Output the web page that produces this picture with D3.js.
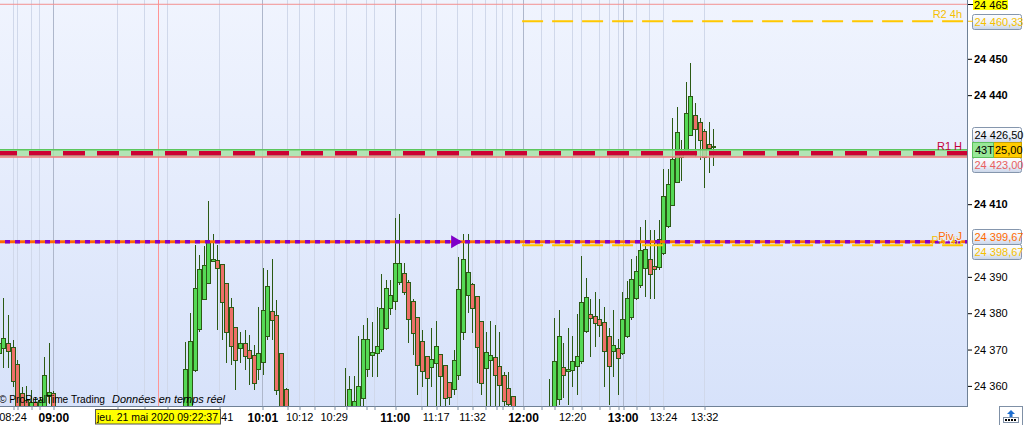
<!DOCTYPE html>
<html><head><meta charset="utf-8"><title>chart</title>
<script src="https://cdn.jsdelivr.net/npm/d3@7/dist/d3.min.js"></script>
<style>
html,body{margin:0;padding:0;background:#fff;overflow:hidden;}
svg{display:block;font-family:"Liberation Sans",Arial,sans-serif;}
</style></head><body>
<svg id="chart" width="1025" height="425"></svg>
<script>
// ---------- DATA ----------
const opens = [24369.1,24370.3,24371.7,24370.6,24365.9,24358.0,24356.1,24349.0,24355.5,24350.0,24349.0,24357.0,24358.1,
24351.0,24347.5,24345.0,24346.5,24342.0,24340.5,24341.5,24337.0,24339.0,24336.5,24334.0,24337.5,24336.0,24333.0,24335.5,24338.5,24336.5,24339.0,24342.0,24340.0,24343.5,24342.0,24345.0,24348.0,24345.5,24347.5,24350.5,24348.0,
24349.0,24353.0,24364.3,24375.6,24383.8,24388.5,24394.3,24394.6,24393.5,24388.2,24381.6,24376.2,24370.3,24371.7,24369.9,24368.5,24364.6,24366.7,24373.6,24380.6,24379.4,24369.0,24359.1,
24350.0,24347.0,24344.5,24346.5,24343.0,24341.0,24344.0,24343.0,24346.5,24345.0,24348.5,24347.0,
24350.0,24352.0,24353.0,24353.0,24356.6,24364.6,24368.7,24369.0,24370.1,24375.9,24381.4,24383.2,24388.5,24391.0,24388.5,24383.4,24378.9,24372.3,24368.1,24365.1,24366.2,24368.7,24365.7,24361.0,24359.1,24362.9,24374.7,24384.9,24388.0,24384.7,24377.8,24364.8,24367.0,24367.9,24365.4,24362.9,24359.3,24357.1,
24351.0,24348.5,24346.0,24347.5,24345.5,24348.0,24346.5,
24349.0,24353.5,24356.3,24365.1,24364.0,24364.4,24365.4,24366.9,24375.0,24379.7,24379.2,24378.4,24377.5,24373.6,24369.5,24370.3,24369.0,24373.6,24378.8,24384.1,24387.6,24392.4,24394.8,24392.9,24392.5,24396.5,24404.1,24409.8,24416.2,24422.9,24424.0,24429.2,24434.5,24432.5,24430.1,24426.5,24426.0];
const highs = [24374.0,24384.1,24379.5,24372.6,24367.1,24359.8,24360.0,24358.9,24357.0,24357.0,24368.0,24371.7,24358.5,
24352.5,24350.0,24348.0,24349.0,24345.5,24343.0,24344.0,24340.5,24342.0,24339.0,24338.5,24341.0,24338.0,24337.0,24340.0,24341.5,24340.0,24343.5,24344.5,24345.0,24347.0,24346.0,24349.5,24350.5,24349.0,24352.0,24352.5,24351.5,
24372.2,24380.0,24398.8,24396.0,24398.5,24410.9,24401.8,24398.8,24393.6,24388.3,24384.1,24376.3,24374.8,24375.4,24374.0,24371.3,24381.8,24392.4,24391.9,24394.8,24383.6,24369.1,24359.5,
24352.0,24350.5,24348.0,24349.5,24346.0,24345.5,24347.5,24348.0,24350.0,24349.5,24351.5,24352.0,
24364.8,24362.7,24362.7,24373.7,24376.8,24378.6,24377.7,24381.6,24390.8,24389.1,24389.1,24406.2,24407.3,24393.7,24389.1,24383.9,24379.0,24375.4,24368.2,24375.9,24377.9,24368.8,24365.8,24361.1,24369.9,24395.6,24401.8,24401.8,24388.2,24384.8,24377.9,24374.9,24377.8,24376.8,24374.9,24363.9,24363.9,24357.2,
24353.0,24351.5,24349.0,24350.0,24349.5,24351.0,24350.5,
24361.9,24378.8,24380.9,24371.9,24376.0,24373.7,24379.8,24395.7,24389.7,24383.8,24385.8,24383.8,24381.6,24376.0,24380.9,24372.9,24385.8,24388.9,24394.9,24395.7,24403.8,24405.7,24402.9,24402.9,24405.7,24419.7,24419.7,24433.6,24436.7,24427.7,24443.6,24448.9,24437.8,24433.6,24430.7,24432.6,24430.7];
const lows = [24367.1,24364.8,24364.8,24359.8,24350.0,24349.0,24347.0,24347.0,24348.0,24348.0,24348.0,24355.0,24349.0,
24346.0,24344.0,24342.5,24341.0,24339.0,24337.5,24336.0,24334.5,24335.0,24333.0,24332.0,24335.5,24331.5,24330.5,24334.0,24335.0,24333.5,24337.0,24338.5,24339.0,24341.0,24340.0,24343.5,24344.0,24343.0,24346.0,24346.5,24345.0,
24346.0,24351.0,24363.8,24374.8,24383.6,24388.3,24394.1,24375.4,24372.6,24366.2,24365.7,24358.9,24366.3,24364.4,24360.2,24358.9,24361.6,24363.0,24372.6,24372.6,24357.5,24350.0,24348.0,
24345.5,24343.0,24342.0,24341.5,24339.5,24339.0,24342.0,24341.5,24344.0,24343.5,24345.5,24345.0,
24347.0,24350.0,24351.0,24351.0,24353.0,24362.5,24362.5,24362.5,24369.3,24375.4,24379.5,24380.9,24387.8,24385.0,24371.7,24368.5,24357.5,24359.8,24352.0,24359.8,24353.0,24353.0,24352.0,24354.7,24357.5,24361.6,24372.6,24380.0,24374.5,24360.7,24357.5,24353.0,24353.0,24353.0,24353.0,24352.0,24352.0,24349.0,
24347.0,24345.0,24343.5,24344.5,24343.0,24345.5,24344.5,
24346.0,24352.0,24354.7,24356.8,24354.7,24359.8,24357.6,24366.0,24374.6,24367.9,24370.6,24373.5,24359.8,24354.7,24362.5,24357.6,24368.5,24373.2,24378.1,24383.6,24386.9,24384.5,24383.8,24383.8,24391.9,24396.0,24403.5,24409.6,24415.8,24416.5,24423.5,24428.8,24422.9,24422.2,24414.5,24418.7,24420.6];
const closes = [24371.8,24373.1,24369.4,24361.2,24352.0,24351.0,24350.0,24355.7,24351.0,24356.1,24362.9,24358.2,24351.0,
24347.5,24345.0,24346.5,24342.0,24340.5,24341.5,24337.0,24339.0,24336.5,24334.0,24337.5,24336.0,24333.0,24335.5,24338.5,24336.5,24339.0,24342.0,24340.0,24343.5,24342.0,24345.0,24348.0,24345.5,24347.5,24350.5,24348.0,24349.0,
24364.6,24372.4,24386.9,24392.1,24393.2,24399.7,24394.8,24392.4,24383.0,24374.7,24370.8,24367.0,24371.7,24368.0,24367.6,24360.7,24369.0,24380.9,24387.4,24378.1,24358.8,24353.0,24350.0,
24347.0,24344.5,24346.5,24343.0,24341.0,24344.0,24343.0,24346.5,24345.0,24348.5,24347.0,24350.0,
24353.0,24359.1,24355.8,24360.0,24372.9,24372.9,24369.4,24370.9,24381.4,24386.9,24385.0,24393.7,24393.7,24385.8,24378.3,24374.5,24365.7,24364.0,24362.1,24367.3,24370.9,24362.6,24356.6,24356.9,24367.0,24386.6,24394.8,24391.3,24381.4,24370.6,24360.7,24369.2,24368.4,24362.9,24360.2,24355.8,24354.9,24351.0,
24348.5,24346.0,24347.5,24345.5,24348.0,24346.5,24349.0,
24353.0,24366.9,24373.6,24362.8,24364.6,24366.8,24368.1,24383.1,24384.4,24378.7,24377.2,24376.8,24369.5,24365.4,24371.2,24367.6,24378.3,24384.1,24389.3,24391.5,24397.3,24397.6,24390.8,24392.1,24400.3,24412.3,24415.6,24422.4,24429.9,24424.4,24435.1,24439.8,24430.6,24427.6,24422.9,24425.4,24426.0];

const yTicks = [24360, 24370, 24380, 24390, 24410, 24440, 24450];
const yTicksBold = [24410, 24440, 24450];
const timeLabels = ["08:24","09:00","09:41","10:01","10:12","10:29","11:00","11:17","11:32","12:00","12:20","13:00","13:24","13:32"];
const timePos    = [3.0, 11.97, 48.4, 57.9, 66.0, 73.6, 87.0, 96.0, 104.0, 115.2, 126.0, 137.1, 146.0, 155.0];
const timeMajor  = ["09:00","10:01","11:00","12:00","13:00"];
const minorGrid  = [4.0, 7.0, 8.9, 26.0, 31.9, 37.0, 63.4, 69.3, 76.3, 80.8, 82.4, 92.7, 100.6, 106.8, 109.2, 110.6, 112.7, 119.1, 122.0, 128.0, 132.0, 134.2, 136.1, 140.0, 142.9];
const cursorPos = 35.05;
const cursorLabel = "jeu. 21 mai 2020 09:22:37";
const watermark1 = "© ProRealTime Trading", watermark2 = "Données en temps réel";

const topLevel = 24465;
const r2Level = 24460.33, r2Name = "R2 4h";
const lastHigh = 24426.50;
const priceLevel = 24425.00, tickCount = "43T";
const r1Level = 24424.0, r1Name = "R1 H";
const r1Box = 24423.00;
const pivJLevel = 24399.67, pivJName = "Piv J";
const piv4hLevel = 24398.67, piv4hName = "Piv 4h";
const levelStartPos = 115.0;   // 4h levels start at 12:00
const markerPos = 99.4;

// ---------- SETUP ----------
const svg = d3.select("#chart");
const PW = 968, PH = 406;
const x = d3.scaleLinear().domain([0, 157]).range([-1.15, 713.2]);
const y = d3.scaleLinear().domain([24354.47, 24466.18]).range([PH, 0]);
const loc = d3.formatLocale({decimal: ",", thousands: " ", grouping: [3], currency: ["", ""]});
const fmtPrice = loc.format(",.2f");
const fmtInt = loc.format(",d");

const defs = svg.append("defs");
const bg = defs.append("linearGradient").attr("id","bg").attr("x1",0).attr("y1",0).attr("x2",0).attr("y2",1);
bg.append("stop").attr("offset","0%").attr("stop-color","#f0f4fe");
bg.append("stop").attr("offset","100%").attr("stop-color","#d7e2fa");
const bx = defs.append("linearGradient").attr("id","boxg").attr("x1",0).attr("y1",0).attr("x2",0).attr("y2",1);
bx.append("stop").attr("offset","0%").attr("stop-color","#fdfeff");
bx.append("stop").attr("offset","55%").attr("stop-color","#eef2fa");
bx.append("stop").attr("offset","100%").attr("stop-color","#c8d4e8");
defs.append("clipPath").attr("id","clip").append("rect").attr("x",0).attr("y",0).attr("width",PW).attr("height",PH);

svg.append("rect").attr("x",0).attr("y",0).attr("width",1025).attr("height",425).attr("fill","#fff");
svg.append("rect").attr("x",0).attr("y",0).attr("width",PW).attr("height",PH).attr("fill","url(#bg)");

const plot = svg.append("g").attr("clip-path","url(#clip)");

// grid
const px = v => Math.round(x(v)) + 0.5;
plot.selectAll("line.minor").data(minorGrid.concat(timePos.filter((p,i)=>!timeMajor.includes(timeLabels[i]))))
  .join("line").attr("x1",px).attr("x2",px).attr("y1",0).attr("y2",PH)
  .attr("stroke","#d0d8ea").attr("stroke-width",1);
plot.selectAll("line.major").data(timePos.filter((p,i)=>timeMajor.includes(timeLabels[i])))
  .join("line").attr("x1",px).attr("x2",px).attr("y1",0).attr("y2",PH)
  .attr("stroke","#aeb7cb").attr("stroke-width",1);
plot.append("line").attr("x1",px(cursorPos)).attr("x2",px(cursorPos)).attr("y1",0).attr("y2",PH)
  .attr("stroke","#ff9595").attr("stroke-width",1);

// candles
const candles = opens.map((o,i)=>({i, o, h: highs[i], l: lows[i], c: closes[i]}));
const cg = plot.append("g").attr("shape-rendering","crispEdges");
cg.selectAll("line.wick").data(candles).join("line")
  .attr("x1",d=>px(d.i)).attr("x2",d=>px(d.i))
  .attr("y1",d=>y(d.h)).attr("y2",d=>y(d.l))
  .attr("stroke","#2b5a14").attr("stroke-width",1);
cg.selectAll("rect.body").data(candles).join("rect")
  .attr("x",d=>Math.round(x(d.i))-1.5).attr("width",4)
  .attr("y",d=>Math.round(y(Math.max(d.o,d.c)))+0.5)
  .attr("height",d=>Math.max(1,Math.round(Math.abs(y(d.o)-y(d.c)))))
  .attr("fill",d=>d.c>=d.o ? "#55d955" : "#ee7068")
  .attr("stroke","#2b5a14").attr("stroke-width",1);

// levels
plot.append("line").attr("x1",0).attr("x2",PW).attr("y1",y(topLevel)).attr("y2",y(topLevel))
  .attr("stroke","#f29090").attr("stroke-width",1);
plot.append("line").attr("x1",x(levelStartPos)).attr("x2",PW).attr("y1",y(r2Level)).attr("y2",y(r2Level))
  .attr("stroke","#ffc800").attr("stroke-width",2).attr("stroke-dasharray","21,9");
// R1 band
plot.append("rect").attr("x",0).attr("width",PW).attr("y",y(priceLevel)).attr("height",y(r1Box)-y(priceLevel))
  .attr("fill","#a8e2a8").attr("opacity",0.85);
plot.append("line").attr("x1",0).attr("x2",PW).attr("y1",y(priceLevel)).attr("y2",y(priceLevel))
  .attr("stroke","#5cc65c").attr("stroke-width",1.5);
plot.append("line").attr("x1",0).attr("x2",PW).attr("y1",y(r1Box)).attr("y2",y(r1Box))
  .attr("stroke","#f07878").attr("stroke-width",1.5);
plot.append("line").attr("x1",0).attr("x2",PW).attr("y1",y(r1Level)).attr("y2",y(r1Level))
  .attr("stroke","#cc0033").attr("stroke-width",4.5).attr("stroke-dasharray","22,12").attr("stroke-dashoffset",5);
// pivots
plot.append("line").attr("x1",x(levelStartPos)).attr("x2",PW).attr("y1",y(piv4hLevel)).attr("y2",y(piv4hLevel))
  .attr("stroke","#ffc800").attr("stroke-width",2).attr("stroke-dasharray","21,9");
plot.append("line").attr("x1",0).attr("x2",PW).attr("y1",y(pivJLevel)).attr("y2",y(pivJLevel))
  .attr("stroke","#ff6a00").attr("stroke-width",3);
plot.append("line").attr("x1",0).attr("x2",PW).attr("y1",y(pivJLevel)).attr("y2",y(pivJLevel))
  .attr("stroke","#8000c8").attr("stroke-width",3.6).attr("stroke-dasharray","5,5").attr("stroke-dashoffset",5);
// marker
const mx = x(markerPos), my = y(pivJLevel);
plot.append("path").attr("d",`M${mx},${my-6.5}L${mx+11},${my}L${mx},${my+6.5}Z`).attr("fill","#8000c8");

// level names
const lab = svg.append("g").attr("font-size","11px").attr("text-anchor","end");
lab.append("text").attr("x",962).attr("y",y(r2Level)-3).attr("fill","#f5c000").text(r2Name);
lab.append("text").attr("x",962).attr("y",y(priceLevel)).attr("fill","#c4003a").text(r1Name);
lab.append("text").attr("x",962).attr("y",y(piv4hLevel)-1).attr("fill","#f5c000").text(piv4hName);
lab.append("text").attr("x",962).attr("y",y(pivJLevel)-2).attr("fill","#ff6a00")
  .attr("stroke","#e6ecfc").attr("stroke-width",2.5).attr("paint-order","stroke").text(pivJName);

// watermark
const wm = svg.append("text").attr("y",403).attr("font-size","11px").attr("fill","#000");
wm.append("tspan").attr("x",-1).attr("textLength",106).attr("lengthAdjust","spacingAndGlyphs").text(watermark1);
wm.append("tspan").attr("x",112).attr("font-style","italic").attr("textLength",113).attr("lengthAdjust","spacingAndGlyphs").text(watermark2);

// borders
svg.append("line").attr("x1",PW-0.5).attr("x2",PW-0.5).attr("y1",0).attr("y2",PH+1).attr("stroke","#6f8196");
svg.append("line").attr("x1",0).attr("x2",PW).attr("y1",PH+0.5).attr("y2",PH+0.5).attr("stroke","#6f8196");

// right axis
const ra = svg.append("g").attr("transform",`translate(${PW},0)`)
  .call(d3.axisRight(y).tickValues(yTicks).tickSize(4).tickPadding(2).tickFormat(fmtInt));
ra.select(".domain").remove();
ra.selectAll("line").attr("stroke","#000");
ra.selectAll("text").attr("font-size","11px").attr("font-family","Liberation Sans, Arial, sans-serif").attr("fill","#000")
  .attr("font-weight",d=> yTicksBold.includes(d) ? "bold" : "normal");

// bottom axis
const ba = svg.append("g").attr("transform",`translate(0,${PH})`)
  .call(d3.axisBottom(x).tickValues(timePos.concat(minorGrid)).tickSize(4).tickPadding(3)
    .tickFormat((d,i)=> i < timeLabels.length ? timeLabels[i] : ""));
ba.select(".domain").remove();
ba.selectAll("line").attr("stroke","#7f90a6").attr("transform",d=>`translate(${px(d)-x(d)},0)`);
ba.selectAll("text").attr("font-family","Liberation Sans, Arial, sans-serif").attr("fill","#000")
  .attr("font-size",(d,i)=> timeMajor.includes(timeLabels[i]) ? "12px" : "11px")
  .attr("font-weight",(d,i)=> timeMajor.includes(timeLabels[i]) ? "bold" : "normal");

// cursor date box
const cxp = x(cursorPos);
svg.append("rect").attr("x",Math.round(cxp-63)+0.5).attr("y",409.5).attr("width",125).attr("height",14.5)
  .attr("fill","#ffff00").attr("stroke","#555").attr("stroke-width",1);
svg.append("text").attr("x",Math.round(cxp-61)).attr("y",421).attr("font-size","11px")
  .attr("textLength",121).attr("lengthAdjust","spacingAndGlyphs").text(cursorLabel);

// right boxes
const boxes = [
  {v: r2Level, col: "#f5c000", dy: 0},
  {v: lastHigh, col: "#000", dy: -10},
  {v: r1Box, col: "#e86060", dy: 7.6},
  {v: pivJLevel, col: "#ff6a00", dy: -5.7},
  {v: piv4hLevel, col: "#f5c000", dy: 5.7}
];
const bgp = svg.append("g");
bgp.selectAll("rect").data(boxes).join("rect")
  .attr("x",972.5).attr("width",49).attr("y",d=>Math.round(y(d.v)+d.dy-7.5)+0.5).attr("height",15)
  .attr("rx",2).attr("fill","url(#boxg)").attr("stroke","#8596ad");
bgp.selectAll("text").data(boxes).join("text")
  .attr("x",974.5).attr("y",d=>Math.round(y(d.v)+d.dy-7.5)+12).attr("font-size","11px")
  .attr("fill",d=>d.col).text(d=>fmtPrice(d.v));
svg.append("line").attr("x1",PW).attr("x2",973).attr("y1",y(r2Level)).attr("y2",y(r2Level)).attr("stroke","#f5c000");
// top box
svg.append("line").attr("x1",PW).attr("x2",973).attr("y1",Math.round(y(topLevel))+0.5).attr("y2",Math.round(y(topLevel))+0.5).attr("stroke","#000");
svg.append("rect").attr("x",973).attr("y",-3).attr("width",35).attr("height",13).attr("fill","#ffff00");
svg.append("text").attr("x",974).attr("y",8.5).attr("font-size","11px").text(fmtInt(topLevel));
// price box
const pyT = Math.round(y(priceLevel)-7.5)+0.5;
svg.append("rect").attr("x",993).attr("y",pyT).attr("width",28.5).attr("height",15).attr("fill","#ffcc00").attr("stroke","#c8a000");
svg.append("rect").attr("x",972.5).attr("y",pyT).attr("width",21).attr("height",15).attr("fill","#98e898").attr("stroke","#5cbf5c");
svg.append("text").attr("x",975).attr("y",pyT+11.5).attr("font-size","11px").text(tickCount);
svg.append("text").attr("x",995).attr("y",pyT+11.5).attr("font-size","11px").text(fmtPrice(priceLevel).slice(-5));

// icon bottom-right
const ic = svg.append("g");
ic.append("rect").attr("x",999.5).attr("y",406.5).attr("width",23).attr("height",19).attr("fill","#fff").attr("stroke","#7f90a6");
ic.append("path").attr("d","M1011,410 L1015,414 L1012.5,414 L1012.5,417 L1009.5,417 L1009.5,414 L1007,414 Z").attr("fill","#1f6fd0");
ic.append("rect").attr("x",1003.5).attr("y",417.5).attr("width",15).attr("height",5).attr("fill","#fff").attr("stroke","#7f90a6");
[1005,1008,1011,1014].forEach(v=>ic.append("rect").attr("x",v).attr("y",419).attr("width",2).attr("height",2).attr("fill","#000"));
</script></body></html>
